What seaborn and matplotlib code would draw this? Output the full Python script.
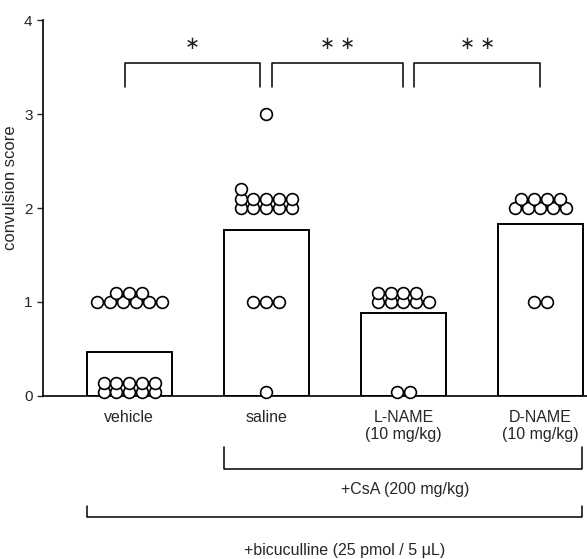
import numpy as np
import pandas as pd
import matplotlib
matplotlib.use('Agg')
import matplotlib.pyplot as plt
import seaborn as sns

# grupos e valores
groups = ['vehicle', 'saline', 'L-NAME\n(10 mg/kg)', 'D-NAME\n(10 mg/kg)']
bar_heights = [0.47, 1.77, 0.88, 1.83]

vehicle_scores = [0, 0, 0, 0, 0, 0, 0, 0, 0, 0, 1, 1, 1, 1, 1, 1, 1, 1, 1]
saline_scores = [0, 1, 1, 1, 2, 2, 2, 2, 2, 2, 2, 2, 2, 2, 2, 3]
lname_scores = [0, 0, 1, 1, 1, 1, 1, 1, 1, 1, 1]
dname_scores = [1, 1, 2, 2, 2, 2, 2, 2, 2, 2, 2]
all_scores = [vehicle_scores, saline_scores, lname_scores, dname_scores]

sig_labels = ['\u2217', '\u2217 \u2217', '\u2217 \u2217']

csa_label = '+CsA (200 mg/kg)'
bic_label = '+bicuculline (25 pmol / 5 \u03bcL)'

# empilhamento dos circulos: (n por linha, deslocamento em colunas)
stack = {
    (0, 0): [(5, 0), (5, 0)],
    (0, 1): [(6, 0), (3, 0)],
    (1, 0): [(1, 0)],
    (1, 1): [(3, 0)],
    (1, 2): [(5, 0), (5, 0), (1, -2)],
    (1, 3): [(1, 0)],
    (2, 0): [(2, 0)],
    (2, 1): [(5, 0), (4, -0.5)],
    (3, 1): [(2, 0)],
    (3, 2): [(5, 0), (4, 0)],
}
dx = 0.094
dy = 0.10

xs, ys = [], []
for gi, scores in enumerate(all_scores):
    for level in sorted(set(scores)):
        n = scores.count(level)
        rows = stack[(gi, level)]
        assert sum(r[0] for r in rows) == n
        for r, (k, shift) in enumerate(rows):
            offs = (np.arange(k) - (k - 1) / 2 + shift) * dx
            xs.extend(gi + offs)
            ys.extend([level + (0.04 if level == 0 else 0) + r * dy] * k)

sns.set_style('ticks')
plt.rcParams['font.family'] = ['Liberation Sans', 'DejaVu Sans']

fig = plt.figure(figsize=(5.87, 5.59), dpi=100)
ax = fig.add_axes([0.0733, 0.2916, 0.9267, 0.6726])

bars = pd.DataFrame({'group': groups, 'score': bar_heights})
sns.barplot(data=bars, x='group', y='score', color='white', edgecolor='black',
            linewidth=1.4, width=0.62, saturation=1, ax=ax)
ax.scatter(xs, ys, s=72, facecolor='white', edgecolor='black', linewidth=1.2,
           zorder=5, clip_on=False)

ax.set_xlim(-0.63, 3.34)
ax.set_ylim(0, 4)
ax.set_yticks([0, 1, 2, 3, 4])
ax.tick_params(axis='y', labelsize=11, length=4.5, width=1, direction='out', pad=3)
ax.tick_params(axis='x', labelsize=11.5, length=0, pad=10)
ax.set_xlabel('')
ax.set_ylabel('convulsion score', fontsize=12)
ax.yaxis.set_label_coords(-0.046, 0.553)
sns.despine(ax=ax)
for s in ['left', 'bottom']:
    ax.spines[s].set_linewidth(1.2)
    ax.spines[s].set_color('black')

# colchetes de significancia
bracket_ends = [(-0.03, 0.95), (1.04, 2.0), (2.08, 3.0)]
for (x0, x1), lab in zip(bracket_ends, sig_labels):
    ax.plot([x0, x0, x1, x1], [3.29, 3.54, 3.54, 3.29], color='black', lw=1.1,
            clip_on=False)
    ax.text((x0 + x1) / 2, 3.74, lab, ha='center', va='center', fontsize=13,
            color='#222222')

# colchetes de tratamento abaixo do eixo
ax.plot([0.69, 0.69, 3.30, 3.30], [-0.54, -0.78, -0.78, -0.54], color='black',
        lw=1.1, clip_on=False)
ax.text(2.01, -1.0, csa_label, ha='center', va='center', fontsize=11.5)
ax.plot([-0.31, -0.31, 3.30, 3.30], [-1.17, -1.29, -1.29, -1.17], color='black',
        lw=1.1, clip_on=False)
ax.text(1.57, -1.64, bic_label, ha='center', va='center', fontsize=11.5)

fig.savefig('out.png', dpi=100)
